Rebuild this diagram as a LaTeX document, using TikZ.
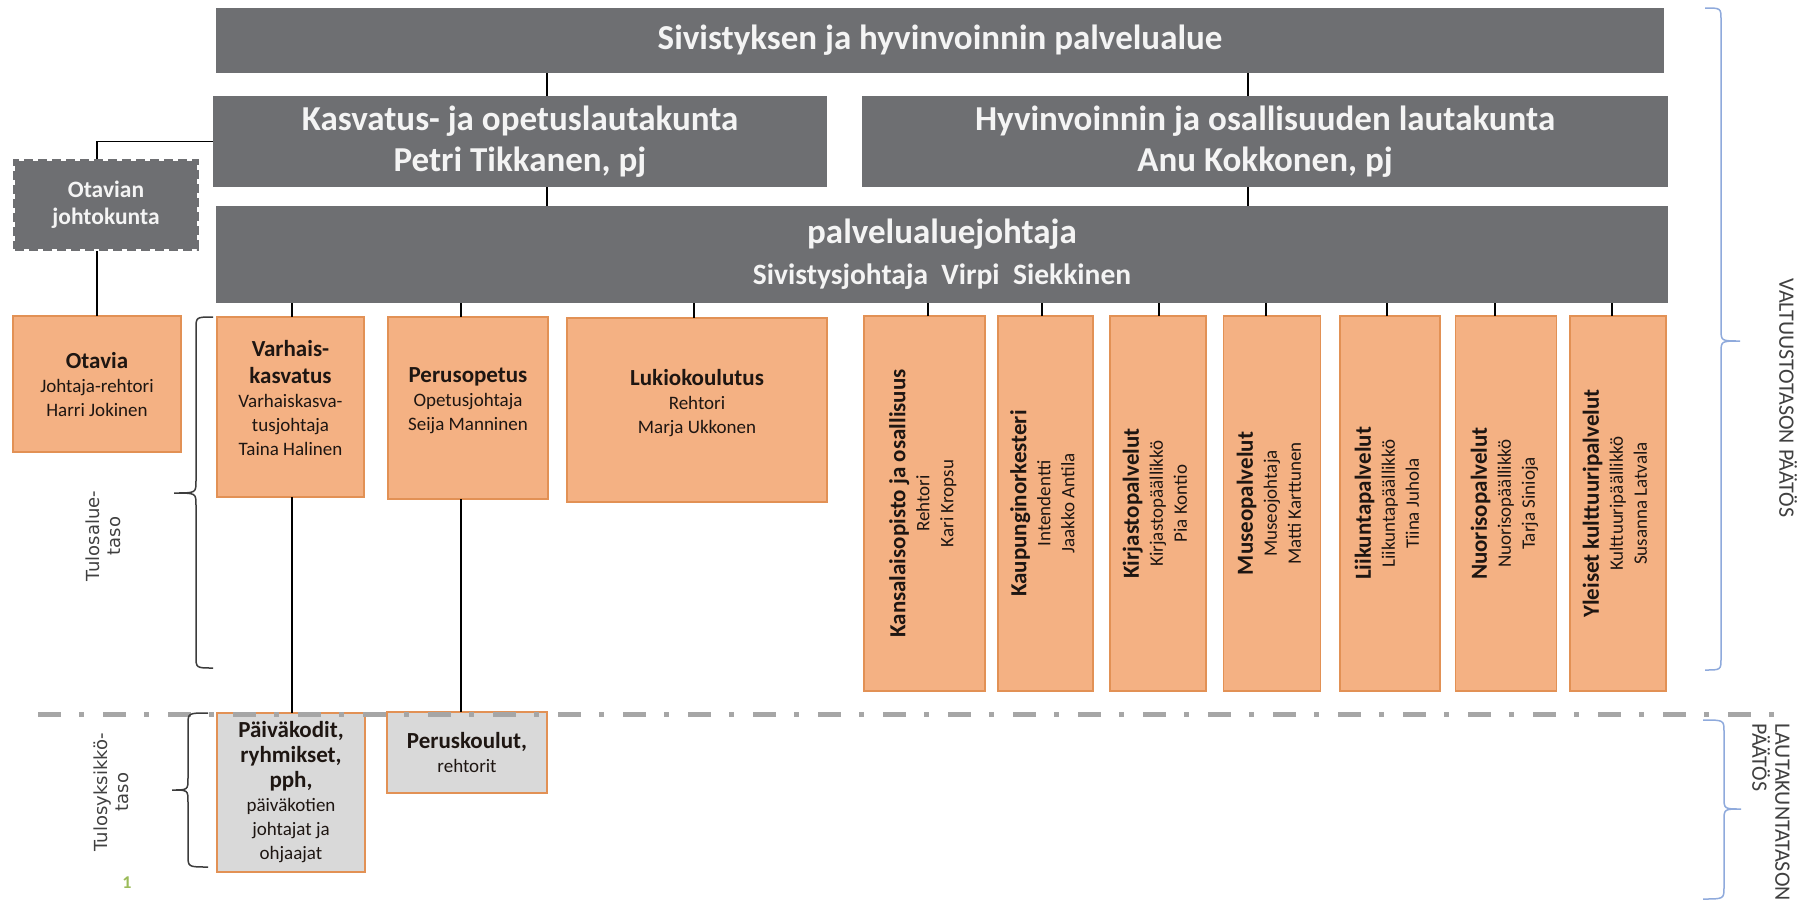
\documentclass[tikz,border=0pt]{standalone}
\usepackage{fontspec}
\setmainfont{Carlito}
\newfontfamily\sidefont{DejaVu Sans}
\usepackage{graphicx}
\usepackage{xcolor}
\usepackage{tikz}
\definecolor{boxgrey}{RGB}{110,111,114}
\definecolor{boxtext}{RGB}{244,244,244}
\definecolor{unitfill}{RGB}{244,177,131}
\definecolor{unitline}{RGB}{226,145,85}
\definecolor{unittext}{RGB}{30,22,18}
\definecolor{localfill}{RGB}{217,217,217}
\definecolor{dashgrey}{RGB}{166,166,166}
\definecolor{sidegrey}{RGB}{64,64,64}
\definecolor{bracegrey}{RGB}{60,60,60}
\definecolor{braceblue}{RGB}{143,170,220}
\definecolor{pagegreen}{RGB}{155,187,89}
\newcommand{\headtxt}{\bfseries\fontsize{23}{27}\selectfont}
\tikzstyle{areabox} = [rectangle, fill=boxgrey, text=boxtext, align=center, inner sep=0pt, outer sep=0pt, font=\bfseries\fontsize{35}{41}\selectfont]
\tikzstyle{boardbox} = [rectangle, fill=boxgrey, draw=boxgrey, line width=4pt, dash pattern=on 9pt off 5pt, text=boxtext, align=center, inner sep=0pt, font=\bfseries\fontsize{23.5}{27}\selectfont]
\tikzstyle{unitbox} = [draw=unitline, line width=1.5pt, rectangle, fill=unitfill, text=unittext, align=center, inner sep=0pt, outer sep=0pt, font=\fontsize{19}{24}\selectfont]
\tikzstyle{highbox} = [unitbox, text depth=18pt]
\tikzstyle{sidebox} = [unitbox, minimum height=375pt]
\tikzstyle{localbox} = [unitbox, fill=localfill]
\tikzstyle{leveltext} = [text=sidegrey, align=center, rotate=90, font=\sidefont\fontsize{18}{21}\selectfont]
\tikzstyle{decisiontext} = [text=sidegrey, align=left, rotate=-90, font=\fontsize{22}{23}\selectfont]
\tikzstyle{link} = [draw=black, line width=1.3pt]
\tikzstyle{levelbrace} = [draw=bracegrey, line width=1.5pt]
\tikzstyle{decisionbrace} = [draw=braceblue, line width=1.5pt]

\begin{document}
\begin{tikzpicture}[x=1pt,y=-1pt]
\path[use as bounding box, fill=white] (0,0) rectangle (1816,906);

% palvelualue ja lautakunnat
\node[areabox, minimum width=1448pt, minimum height=65pt] (area) at (940,40.5) {Sivistyksen ja hyvinvoinnin palvelualue};
\node[areabox, minimum width=614pt, minimum height=91pt] (kasvatus) at (520,141.5) {Kasvatus- ja opetuslautakunta\\Petri Tikkanen, pj};
\node[areabox, minimum width=806pt, minimum height=91pt] (hyvinvointi) at (1265,141.5) {Hyvinvoinnin ja osallisuuden lautakunta\\Anu Kokkonen, pj};
\node[areabox, minimum width=1452pt, minimum height=97pt] (johtaja) at (942,254.5) {palvelualuejohtaja\\{\fontsize{29.5}{35}\selectfont Sivistysjohtaja\ \ Virpi\ \ Siekkinen}};
\node[boardbox, minimum width=182pt, minimum height=88pt] (johtokunta) at (106,205) {Otavian\\johtokunta};

% tulosalueet
\node[unitbox, minimum width=168pt, minimum height=136pt] (otavia) at (97,384) {{\headtxt Otavia}\\Johtaja-rehtori\\Harri Jokinen};
\node[highbox, minimum width=147pt, minimum height=180pt] (varhais) at (290.5,407) {{\headtxt Varhais-}\\[3pt]{\headtxt kasvatus}\\Varhaiskasva-\\tusjohtaja\\Taina Halinen};
\node[highbox, minimum width=160pt, minimum height=182pt] (perus) at (468,408) {{\headtxt Perusopetus}\\Opetusjohtaja\\Seija Manninen};
\node[highbox, minimum width=260pt, minimum height=184pt] (lukio) at (697,410) {{\headtxt Lukiokoulutus}\\Rehtori\\Marja Ukkonen};
\node[sidebox, minimum width=121pt] (kansalais) at (924.5,503.5) {\rotatebox{90}{\begin{tabular}{@{}c@{}}{\headtxt Kansalaisopisto ja osallisuus}\\Rehtori\\Kari Kropsu\end{tabular}}};
\node[sidebox, minimum width=95pt] (orkesteri) at (1045.5,503.5) {\rotatebox{90}{\begin{tabular}{@{}c@{}}{\headtxt Kaupunginorkesteri}\\Intendentti\\Jaakko Antila\end{tabular}}};
\node[sidebox, minimum width=96pt] (kirjasto) at (1158,503.5) {\rotatebox{90}{\begin{tabular}{@{}c@{}}{\headtxt Kirjastopalvelut}\\Kirjastopäällikkö\\Pia Kontio\end{tabular}}};
\node[sidebox, minimum width=97pt] (museo) at (1272,503.5) {\rotatebox{90}{\begin{tabular}{@{}c@{}}{\headtxt Museopalvelut}\\Museojohtaja\\Matti Karttunen\end{tabular}}};
\node[sidebox, minimum width=100pt] (liikunta) at (1390,503.5) {\rotatebox{90}{\begin{tabular}{@{}c@{}}{\headtxt Liikuntapalvelut}\\Liikuntapäällikkö\\Tiina Juhola\end{tabular}}};
\node[sidebox, minimum width=101pt] (nuoriso) at (1506,503.5) {\rotatebox{90}{\begin{tabular}{@{}c@{}}{\headtxt Nuorisopalvelut}\\Nuorisopäällikkö\\Tarja Sinioja\end{tabular}}};
\node[sidebox, minimum width=96pt] (kulttuuri) at (1618,503.5) {\rotatebox{90}{\begin{tabular}{@{}c@{}}{\headtxt Yleiset kulttuuripalvelut}\\Kulttuuripäällikkö\\Susanna Latvala\end{tabular}}};

% tulosyksikot
\node[localbox, minimum width=148pt, minimum height=159pt] (paivakodit) at (291,792.5) {{\headtxt Päiväkodit,}\\[1pt]{\headtxt ryhmikset,}\\[1pt]{\headtxt pph,}\\päiväkotien\\johtajat ja\\ohjaajat};
\node[localbox, minimum width=160pt, minimum height=81pt] (peruskoulut) at (467,752.5) {{\headtxt Peruskoulut,}\\rehtorit};

% yhteydet
\draw[link] ([xshift=27pt]kasvatus.north |- area.south) -- ([xshift=27pt]kasvatus.north);
\draw[link] ([xshift=-17pt]hyvinvointi.north |- area.south) -- ([xshift=-17pt]hyvinvointi.north);
\draw[link] ([xshift=27pt]kasvatus.south) -- ([xshift=27pt]kasvatus.south |- johtaja.north);
\draw[link] ([xshift=-17pt]hyvinvointi.south) -- ([xshift=-17pt]hyvinvointi.south |- johtaja.north);
\draw[link] (kasvatus.west) -| (otavia.north |- johtokunta.north);
\draw[link] (otavia.north |- johtokunta.south) -- (otavia.north);
\draw[link] ([xshift=1.5pt]varhais.north |- johtaja.south) -- ([xshift=1.5pt]varhais.north);
\draw[link] ([xshift=-7pt]perus.north |- johtaja.south) -- ([xshift=-7pt]perus.north);
\draw[link] ([xshift=-3pt]lukio.north |- johtaja.south) -- ([xshift=-3pt]lukio.north);
\draw[link] ([xshift=3.5pt]kansalais.north |- johtaja.south) -- ([xshift=3.5pt]kansalais.north);
\draw[link] ([xshift=-3.5pt]orkesteri.north |- johtaja.south) -- ([xshift=-3.5pt]orkesteri.north);
\draw[link] ([xshift=1pt]kirjasto.north |- johtaja.south) -- ([xshift=1pt]kirjasto.north);
\draw[link] ([xshift=-6pt]museo.north |- johtaja.south) -- ([xshift=-6pt]museo.north);
\draw[link] ([xshift=-3pt]liikunta.north |- johtaja.south) -- ([xshift=-3pt]liikunta.north);
\draw[link] ([xshift=-11pt]nuoriso.north |- johtaja.south) -- ([xshift=-11pt]nuoriso.north);
\draw[link] ([xshift=-6pt]kulttuuri.north |- johtaja.south) -- ([xshift=-6pt]kulttuuri.north);
\draw[link] ([xshift=1.5pt]varhais.south) -- ([xshift=1.5pt]varhais.south |- paivakodit.north);
\draw[link] ([xshift=-7pt]perus.south) -- ([xshift=-7pt]perus.south |- peruskoulut.north);

% tasojen raja
\draw[dashgrey, line width=5pt, dash pattern=on 23pt off 18pt on 5pt off 19pt] (38,714) -- (1790,714);

% sulut ja tasot
\draw[levelbrace] (213,317) .. controls (196,317) .. (196,329) -- (196,481) .. controls (196,493) .. (174,493) .. controls (196,493) .. (196,505) -- (196,656) .. controls (196,668) .. (213,668);
\draw[levelbrace] (208,713) .. controls (188,713) .. (188,725) -- (188,778) .. controls (188,790) .. (172,790) .. controls (188,790) .. (188,802) -- (188,855) .. controls (188,867) .. (208,867);
\draw[decisionbrace] (1705,8) .. controls (1721,8) .. (1721,20) -- (1721,329) .. controls (1721,341) .. (1740,341) .. controls (1721,341) .. (1721,353) -- (1721,658) .. controls (1721,670) .. (1705,670);
\draw[decisionbrace] (1703,720) .. controls (1724,720) .. (1724,732) -- (1724,797) .. controls (1724,809) .. (1741,809) .. controls (1724,809) .. (1724,821) -- (1724,887) .. controls (1724,899) .. (1703,899);
\node[leveltext] (tulosalue) at (103,536) {Tulosalue-\\taso};
\node[leveltext] (tulosyksikko) at (111,792) {Tulosyksikkö-\\taso};
\node[decisiontext] (valtuusto) at (1788,398) {VALTUUSTOTASON PÄÄTÖS};
\node[decisiontext] (lautakunta) at (1771,812) {LAUTAKUNTATASON\\PÄÄTÖS};
\node[text=pagegreen, font=\bfseries\fontsize{18}{20}\selectfont] (sivu) at (127,883) {1};
\end{tikzpicture}
\end{document}
